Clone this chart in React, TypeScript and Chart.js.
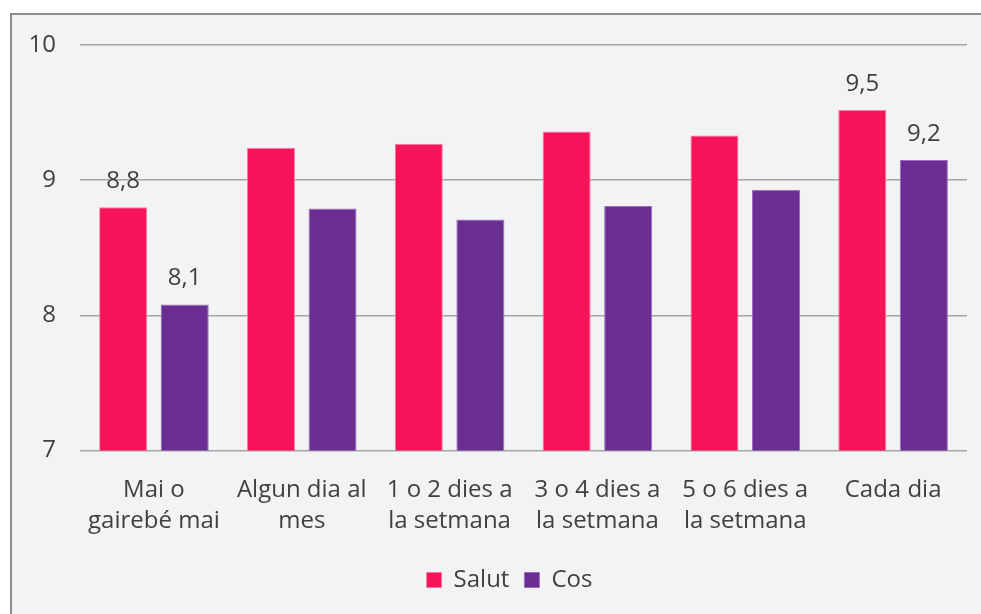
import React, { useEffect, useRef } from "react";
import { Chart, registerables } from "chart.js";

Chart.register(...registerables);

const categories: string[][] = [
  ["Mai o", "gairebé mai"],
  ["Algun dia al", "mes"],
  ["1 o 2 dies a", "la setmana"],
  ["3 o 4 dies a", "la setmana"],
  ["5 o 6 dies a", "la setmana"],
  ["Cada dia"],
];
const salut = [8.8, 9.24, 9.27, 9.36, 9.33, 9.52];
const cos = [8.08, 8.79, 8.71, 8.81, 8.93, 9.15];
const labelledIndices = [0, 5];
const yTicks = [7, 8, 9, 10];

const FONT = "'Open Sans', Lato, sans-serif";
const TEXT = "#404040";
const FS = 24;

const dataLabels = {
  id: "dataLabels",
  afterLayout(chart: any) {
    const lg = chart.legend;
    if (lg) {
      lg.left += 20;
      lg.right += 20;
    }
  },
  afterDatasetsDraw(chart: any) {
    const ctx = chart.ctx;
    ctx.save();
    ctx.font = `${FS}px ${FONT}`;
    ctx.fillStyle = TEXT;
    ctx.textAlign = "center";
    ctx.textBaseline = "middle";
    chart.data.datasets.forEach((ds: any, di: number) => {
      const meta = chart.getDatasetMeta(di);
      labelledIndices.forEach((i) => {
        const el = meta.data[i];
        const v = ds.data[i];
        const txt = v.toFixed(1).replace(".", ",");
        ctx.fillText(txt, el.x, el.y - 26);
      });
    });
    ctx.restore();
  },
};

export default function App() {
  const ref = useRef<HTMLCanvasElement | null>(null);
  useEffect(() => {
    if (!ref.current) return;
    const chart = new Chart(ref.current, {
      type: "bar",
      data: {
        labels: categories,
        datasets: [
          {
            label: "Salut",
            data: salut,
            backgroundColor: "#f51459",
            borderColor: "#f77ba0",
            borderWidth: 1,
            barPercentage: 0.78,
            categoryPercentage: 0.833,
          },
          {
            label: "Cos",
            data: cos,
            backgroundColor: "#6a2d91",
            borderColor: "#9a6cc0",
            borderWidth: 1,
            barPercentage: 0.78,
            categoryPercentage: 0.833,
          },
        ],
      },
      options: {
        animation: false,
        responsive: false,
        maintainAspectRatio: false,
        layout: { padding: { top: 30, right: 14, left: 0, bottom: 12 } },
        plugins: {
          tooltip: { enabled: false },
          legend: {
            position: "bottom",
            labels: {
              boxWidth: 15,
              boxHeight: 15,
              padding: 15,
              color: TEXT,
              font: { family: FONT, size: FS },
            },
          },
        },
        scales: {
          x: {
            grid: { display: false },
            border: { display: false },
            ticks: {
              color: TEXT,
              font: { family: FONT, size: FS, lineHeight: 1.3 },
              maxRotation: 0,
              autoSkip: false,
              padding: 16,
            },
          },
          y: {
            min: 7,
            max: 10,
            afterFit(scale: any) {
              scale.width = 68;
              scale.paddingTop = 0;
              scale.paddingBottom = 0;
            },
            afterBuildTicks(scale: any) {
              scale.ticks = yTicks.map((v) => ({ value: v }));
            },
            grid: { color: "#a6a6a6", lineWidth: 1.5, drawTicks: false },
            border: { display: false },
            ticks: {
              color: TEXT,
              font: { family: FONT, size: FS },
              padding: 24,
            },
          },
        },
      },
      plugins: [dataLabels],
    } as any);
    return () => chart.destroy();
  }, []);

  return (
    <div
      style={{
        position: "fixed",
        left: 0,
        top: 0,
        width: 981,
        height: 614,
        background: "#ffffff",
        overflow: "hidden",
      }}
    >
      <div
        style={{
          position: "absolute",
          left: 10,
          top: 13,
          width: 971,
          height: 601,
          boxSizing: "border-box",
          borderLeft: "2px solid #8c8c8c",
          borderTop: "2px solid #8c8c8c",
          background: "#f2f3f5",
        }}
      >
        <canvas ref={ref} width={969} height={599} style={{ display: "block" }} />
      </div>
    </div>
  );
}
